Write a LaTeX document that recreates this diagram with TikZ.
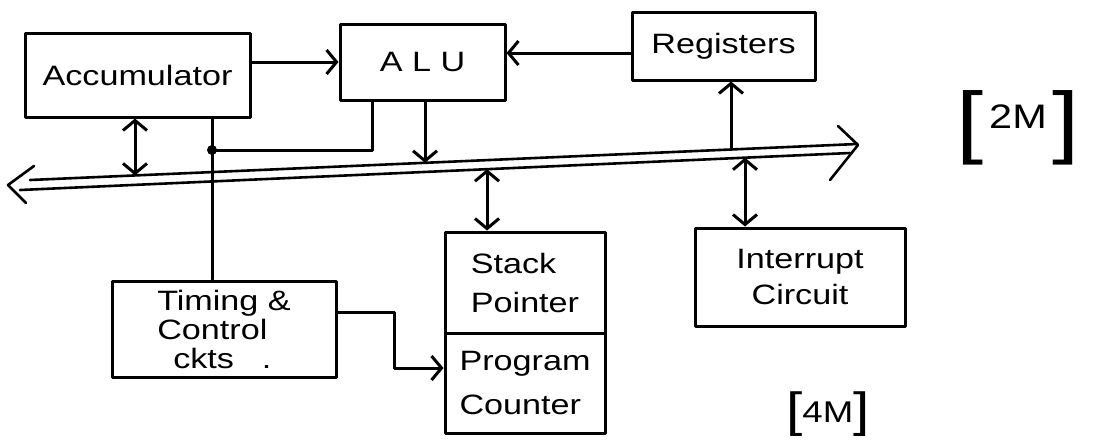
\documentclass[tikz,border=0pt]{standalone}
\usepackage{fontspec}
\setmainfont{Liberation Sans}[FakeStretch=1.22]
\usetikzlibrary{arrows.meta}
\tikzset{
  ln/.style={line width=3pt, line cap=round, line join=round},
  box/.style={ln, draw, rectangle, inner sep=0pt, font=\fontsize{28}{36}\selectfont},
  tip/.tip={Straight Barb[length=10pt,width=24pt,line width=3pt]},
  arr/.style={ln, -tip},
  darr/.style={ln, tip-tip},
  bus/.style={line width=2.6pt, line cap=round, line join=round},
  marktext/.style={inner sep=0pt}
}
\begin{document}
\begin{tikzpicture}[x=1pt,y=-1pt]
\useasboundingbox (0,0) rectangle (1099,440);
% blocks
\node[box, minimum width=225pt, minimum height=84pt] (acc) at (137.5,75) {Accumulator};
\node[box, minimum width=165pt, minimum height=76pt] (alu) at (422.5,62) {A L U};
\node[box, minimum width=183pt, minimum height=68pt] (reg) at (723.5,46) {Registers};
\node[box, minimum width=224pt, minimum height=96pt, align=left, font=\fontsize{28}{29}\selectfont] (tim) at (224,329) {Timing \&\\Control\\\hspace*{16pt}ckts\hspace{28pt}.};
\node[box, minimum width=160pt, minimum height=101pt, align=left, font=\fontsize{28}{39}\selectfont] (stk) at (525,282.5) {Stack\\Pointer};
\node[box, minimum width=160pt, minimum height=100pt, align=left, font=\fontsize{28}{44}\selectfont] (pc) at (525,383) {Program\\Counter};
\node[box, minimum width=210pt, minimum height=98pt, align=center, font=\fontsize{28}{36}\selectfont] (int) at (800,277) {Interrupt\\Circuit};
% bus
\draw[bus] (30,180) -- (857,144);
\draw[bus] (20,190) -- (850,153);
\draw[bus] (34,166) -- (8,185) -- (26,203);
\draw[bus] (838,126) -- (858,145) -- (830,180);
\coordinate (bAcc) at (135,175.4);
\coordinate (bAlu) at (425,162.8);
\coordinate (bReg) at (731,149.5);
\coordinate (bStk) at (487,169.2);
\coordinate (bInt) at (745,157.7);
\coordinate (dot) at (212,150);
\coordinate (leg) at (372,150);
% connectors
\draw[arr] ([yshift=13pt]acc.east) -- (alu.west);
\draw[arr] ([yshift=-7pt]reg.west) -- ([yshift=-7pt]reg.west -| alu.east);
\draw[darr] (acc.south -| bAcc) -- (bAcc);
\draw[ln] (acc.south -| dot) -- (tim.north -| dot);
\fill (dot) circle (5pt);
\draw[ln] (dot) -- (leg) -- (leg |- alu.south);
\draw[arr] (alu.south -| bAlu) -- (bAlu);
\draw[arr] (bReg) -- (bReg |- reg.south);
\draw[darr] (bStk) -- (bStk |- stk.north);
\draw[darr] (bInt) -- (bInt |- int.north);
\draw[arr] ([yshift=17pt]tim.east) -- ++(57,0) |- ([yshift=15pt]pc.west);
% marks
\node[marktext] (m2) at (1018,128) {{\fontsize{80}{80}\selectfont[}\raisebox{20pt}{\fontsize{34}{34}\selectfont\,2M\,}{\fontsize{80}{80}\selectfont]}};
\node[marktext, anchor=south west] (m4) at (786,437) {{\fontsize{48}{48}\selectfont[}\raisebox{4pt}{\fontsize{30}{30}\selectfont 4M}{\fontsize{48}{48}\selectfont]}};
\end{tikzpicture}
\end{document}
